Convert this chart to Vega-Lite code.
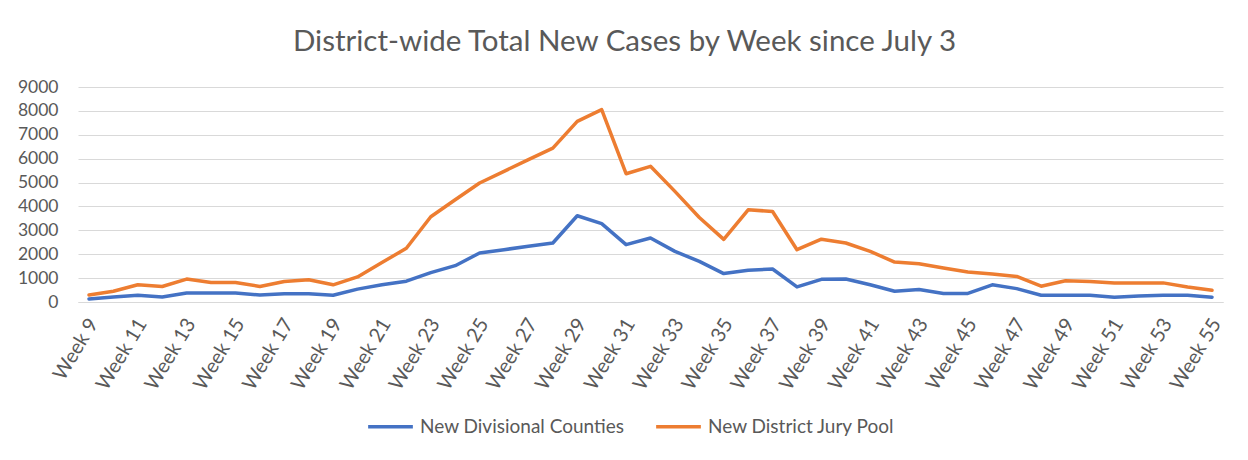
{
  "$schema": "https://vega.github.io/schema/vega-lite/v6.json",
  "autosize": {"type": "none"},
  "width": 1145,
  "height": 215,
  "padding": {"left": 78, "top": 87, "right": 25, "bottom": 158},
  "background": "white",
  "config": {
    "font": "Lato",
    "view": {"stroke": null}
  },
  "title": {
    "text": "District-wide Total New Cases by Week since July 3",
    "font": "Lato",
    "fontSize": 29.5,
    "fontWeight": "normal",
    "color": "#595959",
    "anchor": "middle",
    "offset": 21,
    "dx": -26
  },
  "data": {
    "values": [
      {"week": "Week 9", "series": "New Divisional Counties", "cases": 130},
      {"week": "Week 10", "series": "New Divisional Counties", "cases": 210},
      {"week": "Week 11", "series": "New Divisional Counties", "cases": 280},
      {"week": "Week 12", "series": "New Divisional Counties", "cases": 210},
      {"week": "Week 13", "series": "New Divisional Counties", "cases": 380},
      {"week": "Week 14", "series": "New Divisional Counties", "cases": 380},
      {"week": "Week 15", "series": "New Divisional Counties", "cases": 380},
      {"week": "Week 16", "series": "New Divisional Counties", "cases": 290},
      {"week": "Week 17", "series": "New Divisional Counties", "cases": 350},
      {"week": "Week 18", "series": "New Divisional Counties", "cases": 350},
      {"week": "Week 19", "series": "New Divisional Counties", "cases": 280},
      {"week": "Week 20", "series": "New Divisional Counties", "cases": 540},
      {"week": "Week 21", "series": "New Divisional Counties", "cases": 720},
      {"week": "Week 22", "series": "New Divisional Counties", "cases": 870},
      {"week": "Week 23", "series": "New Divisional Counties", "cases": 1230},
      {"week": "Week 24", "series": "New Divisional Counties", "cases": 1520},
      {"week": "Week 25", "series": "New Divisional Counties", "cases": 2050},
      {"week": "Week 26", "series": "New Divisional Counties", "cases": 2190},
      {"week": "Week 27", "series": "New Divisional Counties", "cases": 2330},
      {"week": "Week 28", "series": "New Divisional Counties", "cases": 2470},
      {"week": "Week 29", "series": "New Divisional Counties", "cases": 3610},
      {"week": "Week 30", "series": "New Divisional Counties", "cases": 3280},
      {"week": "Week 31", "series": "New Divisional Counties", "cases": 2400},
      {"week": "Week 32", "series": "New Divisional Counties", "cases": 2680},
      {"week": "Week 33", "series": "New Divisional Counties", "cases": 2120},
      {"week": "Week 34", "series": "New Divisional Counties", "cases": 1700},
      {"week": "Week 35", "series": "New Divisional Counties", "cases": 1190},
      {"week": "Week 36", "series": "New Divisional Counties", "cases": 1330},
      {"week": "Week 37", "series": "New Divisional Counties", "cases": 1380},
      {"week": "Week 38", "series": "New Divisional Counties", "cases": 630},
      {"week": "Week 39", "series": "New Divisional Counties", "cases": 950},
      {"week": "Week 40", "series": "New Divisional Counties", "cases": 960},
      {"week": "Week 41", "series": "New Divisional Counties", "cases": 720},
      {"week": "Week 42", "series": "New Divisional Counties", "cases": 450},
      {"week": "Week 43", "series": "New Divisional Counties", "cases": 520},
      {"week": "Week 44", "series": "New Divisional Counties", "cases": 360},
      {"week": "Week 45", "series": "New Divisional Counties", "cases": 360},
      {"week": "Week 46", "series": "New Divisional Counties", "cases": 720},
      {"week": "Week 47", "series": "New Divisional Counties", "cases": 560},
      {"week": "Week 48", "series": "New Divisional Counties", "cases": 280},
      {"week": "Week 49", "series": "New Divisional Counties", "cases": 280},
      {"week": "Week 50", "series": "New Divisional Counties", "cases": 280},
      {"week": "Week 51", "series": "New Divisional Counties", "cases": 200},
      {"week": "Week 52", "series": "New Divisional Counties", "cases": 250},
      {"week": "Week 53", "series": "New Divisional Counties", "cases": 280},
      {"week": "Week 54", "series": "New Divisional Counties", "cases": 280},
      {"week": "Week 55", "series": "New Divisional Counties", "cases": 200},
      {"week": "Week 9", "series": "New District Jury Pool", "cases": 290},
      {"week": "Week 10", "series": "New District Jury Pool", "cases": 450},
      {"week": "Week 11", "series": "New District Jury Pool", "cases": 720},
      {"week": "Week 12", "series": "New District Jury Pool", "cases": 650},
      {"week": "Week 13", "series": "New District Jury Pool", "cases": 960},
      {"week": "Week 14", "series": "New District Jury Pool", "cases": 820},
      {"week": "Week 15", "series": "New District Jury Pool", "cases": 820},
      {"week": "Week 16", "series": "New District Jury Pool", "cases": 650},
      {"week": "Week 17", "series": "New District Jury Pool", "cases": 860},
      {"week": "Week 18", "series": "New District Jury Pool", "cases": 930},
      {"week": "Week 19", "series": "New District Jury Pool", "cases": 720},
      {"week": "Week 20", "series": "New District Jury Pool", "cases": 1050},
      {"week": "Week 21", "series": "New District Jury Pool", "cases": 1650},
      {"week": "Week 22", "series": "New District Jury Pool", "cases": 2250},
      {"week": "Week 23", "series": "New District Jury Pool", "cases": 3570},
      {"week": "Week 24", "series": "New District Jury Pool", "cases": 4280},
      {"week": "Week 25", "series": "New District Jury Pool", "cases": 4980},
      {"week": "Week 26", "series": "New District Jury Pool", "cases": 5470},
      {"week": "Week 27", "series": "New District Jury Pool", "cases": 5960},
      {"week": "Week 28", "series": "New District Jury Pool", "cases": 6440},
      {"week": "Week 29", "series": "New District Jury Pool", "cases": 7560},
      {"week": "Week 30", "series": "New District Jury Pool", "cases": 8050},
      {"week": "Week 31", "series": "New District Jury Pool", "cases": 5370},
      {"week": "Week 32", "series": "New District Jury Pool", "cases": 5680},
      {"week": "Week 33", "series": "New District Jury Pool", "cases": 4630},
      {"week": "Week 34", "series": "New District Jury Pool", "cases": 3540},
      {"week": "Week 35", "series": "New District Jury Pool", "cases": 2620},
      {"week": "Week 36", "series": "New District Jury Pool", "cases": 3860},
      {"week": "Week 37", "series": "New District Jury Pool", "cases": 3790},
      {"week": "Week 38", "series": "New District Jury Pool", "cases": 2190},
      {"week": "Week 39", "series": "New District Jury Pool", "cases": 2630},
      {"week": "Week 40", "series": "New District Jury Pool", "cases": 2470},
      {"week": "Week 41", "series": "New District Jury Pool", "cases": 2120},
      {"week": "Week 42", "series": "New District Jury Pool", "cases": 1670},
      {"week": "Week 43", "series": "New District Jury Pool", "cases": 1600},
      {"week": "Week 44", "series": "New District Jury Pool", "cases": 1420},
      {"week": "Week 45", "series": "New District Jury Pool", "cases": 1260},
      {"week": "Week 46", "series": "New District Jury Pool", "cases": 1170},
      {"week": "Week 47", "series": "New District Jury Pool", "cases": 1070},
      {"week": "Week 48", "series": "New District Jury Pool", "cases": 660},
      {"week": "Week 49", "series": "New District Jury Pool", "cases": 890},
      {"week": "Week 50", "series": "New District Jury Pool", "cases": 860},
      {"week": "Week 51", "series": "New District Jury Pool", "cases": 800},
      {"week": "Week 52", "series": "New District Jury Pool", "cases": 800},
      {"week": "Week 53", "series": "New District Jury Pool", "cases": 800},
      {"week": "Week 54", "series": "New District Jury Pool", "cases": 630},
      {"week": "Week 55", "series": "New District Jury Pool", "cases": 490}
    ]
  },
  "mark": {"type": "line", "strokeWidth": 3.5, "strokeJoin": "round", "strokeCap": "round"},
  "encoding": {
    "x": {
      "field": "week",
      "type": "ordinal",
      "sort": null,
      "scale": {"type": "point", "padding": 0.45},
      "axis": {
        "title": null,
        "values": ["Week 9", "Week 11", "Week 13", "Week 15", "Week 17", "Week 19", "Week 21", "Week 23", "Week 25", "Week 27", "Week 29", "Week 31", "Week 33", "Week 35", "Week 37", "Week 39", "Week 41", "Week 43", "Week 45", "Week 47", "Week 49", "Week 51", "Week 53", "Week 55"],
        "labelAngle": -59,
        "labelFontSize": 20,
        "labelColor": "#595959",
        "labelFont": "Lato",
        "labelPadding": 18,
        "labelOffset": 4,
        "ticks": false,
        "domain": true,
        "domainColor": "#d9d9d9",
        "grid": false
      }
    },
    "y": {
      "field": "cases",
      "type": "quantitative",
      "scale": {"domain": [0, 9000]},
      "axis": {
        "title": null,
        "values": [0, 1000, 2000, 3000, 4000, 5000, 6000, 7000, 8000, 9000],
        "format": "d",
        "labelFontSize": 17.5,
        "labelColor": "#595959",
        "labelFont": "Lato",
        "labelPadding": 20,
        "ticks": false,
        "domain": false,
        "grid": true,
        "gridColor": "#d9d9d9",
        "gridWidth": 1
      }
    },
    "color": {
      "field": "series",
      "type": "nominal",
      "scale": {"domain": ["New Divisional Counties", "New District Jury Pool"], "range": ["#4472C4", "#ED7D31"]},
      "legend": {
        "title": null,
        "orient": "none",
        "direction": "horizontal",
        "legendX": 288,
        "legendY": 315,
        "symbolType": "stroke",
        "symbolStrokeWidth": 3.5,
        "symbolSize": 2000,
        "labelFontSize": 19,
        "labelColor": "#595959",
        "labelFont": "Lato",
        "labelOffset": 5,
        "labelLimit": 0,
        "columnPadding": 24
      }
    }
  }
}
